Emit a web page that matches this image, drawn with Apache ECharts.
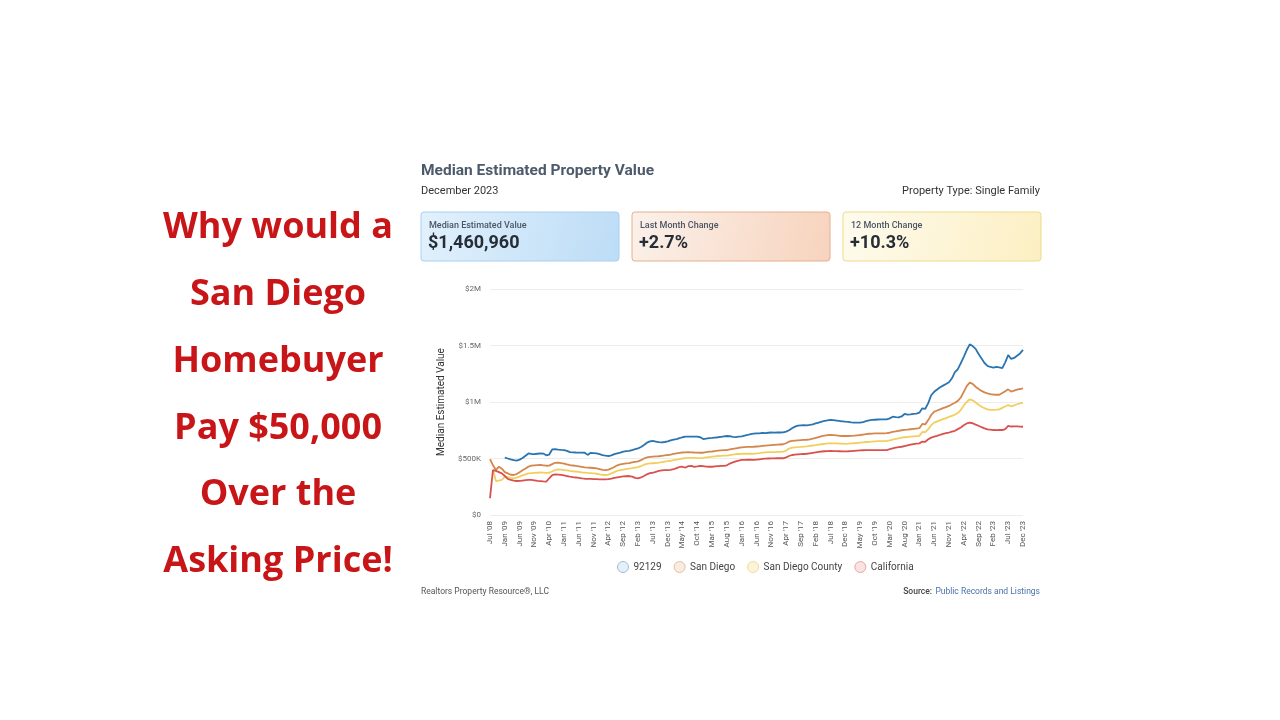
<!DOCTYPE html>
<html>
<head>
<meta charset="utf-8">
<script src="https://cdn.jsdelivr.net/npm/echarts@6/dist/echarts.min.js"></script>
<style>
html,body{margin:0;padding:0;background:#fff;}
#chart{width:1280px;height:720px;}
</style>
</head>
<body>
<div id="chart"></div>
<script>
// ---- Data ----
const headlineLines = ["Why would a", "San Diego", "Homebuyer", "Pay $50,000", "Over the", "Asking Price!"];
const chartTitle = "Median Estimated Property Value";
const chartSubtitle = "December 2023";
const propertyType = "Property Type: Single Family";
const cardLabels = ["Median Estimated Value", "Last Month Change", "12 Month Change"];
const cardValues = ["$1,460,960", "+2.7%", "+10.3%"];
const seriesNames = ["92129", "San Diego", "San Diego County", "California"];
const yTicks = [0, 500, 1000, 1500, 2000]; // thousands of dollars
const yTickLabels = ["$0", "$500K", "$1M", "$1.5M", "$2M"];

const months = [
  "Jul '08","Aug '08","Sep '08","Oct '08","Nov '08",
  "Jan '09","Feb '09","Mar '09","Apr '09","May '09","Jun '09","Jul '09","Aug '09","Sep '09","Oct '09","Nov '09","Dec '09",
  "Jan '10","Feb '10","Mar '10","Apr '10","Sep '10","Oct '10","Nov '10","Dec '10",
  "Jan '11","Feb '11","Mar '11","Apr '11","May '11","Jun '11","Jul '11","Aug '11","Sep '11","Oct '11","Nov '11","Dec '11",
  "Jan '12","Feb '12","Mar '12","Apr '12","May '12","Jun '12","Jul '12","Aug '12","Sep '12","Oct '12","Nov '12","Dec '12",
  "Jan '13","Feb '13","Mar '13","Apr '13","May '13","Jun '13","Jul '13","Aug '13","Sep '13","Oct '13","Nov '13","Dec '13",
  "Jan '14","Feb '14","Mar '14","Apr '14","May '14","Jun '14","Jul '14","Aug '14","Sep '14","Oct '14","Nov '14","Dec '14",
  "Jan '15","Feb '15","Mar '15","Apr '15","May '15","Jun '15","Jul '15","Aug '15","Sep '15","Oct '15","Nov '15","Dec '15",
  "Jan '16","Feb '16","Mar '16","Apr '16","May '16","Jun '16","Jul '16","Aug '16","Sep '16","Oct '16","Nov '16","Dec '16",
  "Jan '17","Feb '17","Mar '17","Apr '17","May '17","Jun '17","Jul '17","Aug '17","Sep '17","Oct '17","Nov '17","Dec '17",
  "Jan '18","Feb '18","Mar '18","Apr '18","May '18","Jun '18","Jul '18","Aug '18","Sep '18","Oct '18","Nov '18","Dec '18",
  "Jan '19","Feb '19","Mar '19","Apr '19","May '19","Jun '19","Jul '19","Aug '19","Sep '19","Oct '19","Nov '19","Dec '19",
  "Jan '20","Feb '20","Mar '20","Apr '20","May '20","Jun '20","Jul '20","Aug '20","Sep '20","Oct '20","Nov '20","Dec '20",
  "Jan '21","Feb '21","Mar '21","Apr '21","May '21","Jun '21","Jul '21","Aug '21","Sep '21","Oct '21","Nov '21","Dec '21",
  "Jan '22","Feb '22","Mar '22","Apr '22","May '22","Jun '22","Jul '22","Aug '22","Sep '22","Oct '22","Nov '22","Dec '22",
  "Jan '23","Feb '23","Mar '23","Apr '23","May '23","Jun '23","Jul '23","Aug '23","Sep '23","Oct '23","Nov '23","Dec '23"
];

// values in thousands of dollars
const zip92129 = [
  null,null,null,null,null,
  507,500,492,485,481, 490,505,525,545,540, 538,542,545,544,528,
  535,580,582,578,576, 575,568,557,555,553, 552,552,551,532,550,
  548,545,538,530,525, 522,528,538,546,552, 560,565,568,575,582,
  590,602,620,640,652, 655,650,645,643,646, 652,660,668,672,680,
  688,693,694,693,694, 693,688,672,676,680, 682,685,688,692,696,
  699,697,692,690,693, 696,702,708,715,720, 723,722,726,725,728,
  730,729,731,730,732, 738,750,768,782,790, 794,795,794,797,802,
  810,818,826,832,838, 842,840,836,832,829, 826,824,820,818,817,
  817,822,830,838,841, 843,845,846,847,847, 855,870,866,864,872,
  894,888,890,895,898, 905,944,940,990,1060, 1090,1110,1130,1145,1160,
  1175,1210,1265,1290,1345, 1400,1460,1510,1495,1470, 1425,1385,1345,1320,1310,
  1304,1310,1307,1300,1350, 1416,1381,1390,1410,1430, 1461
];
const sanDiego = [
  495,440,400,427,410, 380,368,356,354,362, 378,395,412,428,436,
  440,442,444,440,436, 437,450,462,463,460, 455,448,442,438,434,
  430,426,422,420,418, 416,412,406,400,398, 402,412,425,440,448,
  452,456,460,465,470, 474,485,500,510,514, 516,518,520,524,528,
  531,535,540,545,550, 553,555,556,555,553, 552,551,551,556,560,
  562,566,569,572,575, 575,580,585,590,595, 598,600,602,603,604,
  606,608,611,614,616, 618,620,622,624,626, 635,650,656,658,660,
  662,664,666,670,675, 682,690,697,702,706, 708,707,704,701,699,
  699,699,700,702,705, 708,712,716,719,721, 722,722,723,723,724,
  728,735,740,745,750, 754,756,759,762,765, 768,806,802,840,885,
  914,925,935,945,955, 965,980,994,1010,1040, 1090,1140,1172,1160,1135,
  1115,1098,1085,1077,1070, 1065,1064,1064,1080,1095, 1112,1092,1100,1110,1115,
  1121
];
const sanDiegoCounty = [
  null,400,300,305,310, 340,335,328,325,330, 340,350,360,368,370,
  372,374,376,375,373, 374,385,398,404,402, 398,394,390,387,385,
  382,378,375,372,370, 368,365,360,356,354, 358,368,380,392,398,
  402,406,410,414,419, 423,432,445,453,456, 458,460,463,467,472,
  476,480,485,490,495, 500,503,505,506,505, 504,504,505,509,513,
  516,519,522,524,525, 526,530,534,538,540, 541,542,542,542,541,
  545,548,552,555,556, 557,557,558,559,560, 570,588,596,598,600,
  602,605,608,612,615, 618,622,626,630,633, 634,634,633,632,631,
  630,631,633,635,637, 640,643,646,648,650, 652,653,653,654,655,
  660,668,674,679,684, 688,690,693,696,698, 700,735,733,760,795,
  817,828,838,848,858, 868,878,888,902,930, 970,1000,1024,1015,995,
  975,958,945,935,930, 930,932,935,948,960, 973,962,970,980,988,
  994
];
const california = [
  148,398,390,380,369, 345,320,310,305,301, 302,305,308,310,310,
  306,302,300,297,295, 325,352,360,358,355, 350,345,339,335,332,
  328,324,321,320,319, 318,317,316,316,316, 318,322,328,333,338,
  341,343,345,340,328, 325,332,345,360,370, 374,382,390,395,397,
  398,400,405,415,425, 427,420,432,434,426, 430,435,432,428,427,
  427,430,432,434,434, 440,455,465,475,482, 487,488,489,489,487,
  490,493,496,499,500, 501,501,502,502,502, 510,522,531,534,536,
  538,540,542,546,550, 554,558,562,564,566, 567,566,565,564,563,
  563,564,566,568,570, 572,573,574,575,575, 575,575,575,575,575,
  582,590,596,600,604, 610,616,622,628,632, 634,650,648,670,685,
  693,700,710,718,725, 730,738,745,760,775, 795,810,817,812,800,
  790,777,766,758,755, 752,751,752,752,760, 788,783,784,784,782,
  781
];
const seriesData = [zip92129, sanDiego, sanDiegoCounty, california];
const seriesColors = ["#2a74b0", "#d4874c", "#f1cf5f", "#d8514e"];
const legendFill = ["#e6f0f8", "#f8ebe0", "#fcf4d8", "#f9e3e2"];
const legendBorder = ["#9dbfdc", "#e6c09e", "#f0dd9a", "#e8a9a7"];

// ---- Chart ----
const chart = echarts.init(document.getElementById('chart'));
const FONT = 'Roboto, "Noto Sans", sans-serif';

const graphics = [];
headlineLines.forEach((t, i) => {
  graphics.push({
    type: 'text',
    x: 278, y: 228 + i * 66.8,
    style: { text: t, align: 'center', verticalAlign: 'middle',
      fill: '#c81618', font: '700 36px "Open Sans", sans-serif' }
  });
});
graphics.push({ type: 'text', x: 421, y: 171, style: { text: chartTitle, verticalAlign: 'middle', fill: '#4d5a6b', font: '700 15.5px Roboto, sans-serif' } });
graphics.push({ type: 'text', x: 421, y: 191, style: { text: chartSubtitle, verticalAlign: 'middle', fill: '#333', font: '400 11px Roboto, sans-serif' } });
graphics.push({ type: 'text', x: 1040, y: 191, style: { text: propertyType, align: 'right', verticalAlign: 'middle', fill: '#333', font: '400 11px Roboto, sans-serif' } });

const cardX = [421, 632, 843];
const cardW = 198;
const cardGrad = [
  ['#e2f1fc', '#bcdcf6', '#a8d0f0'],
  ['#fbf1ea', '#f7d3bd', '#e5b08e'],
  ['#fefbee', '#fcefc2', '#eedb8a']
];
cardX.forEach((x, i) => {
  graphics.push({
    type: 'rect', shape: { x: x, y: 212, width: cardW, height: 49, r: 3 },
    style: {
      fill: new echarts.graphic.LinearGradient(0, 0, 1, 1, [
        { offset: 0, color: cardGrad[i][0] }, { offset: 1, color: cardGrad[i][1] }
      ]),
      stroke: cardGrad[i][2], lineWidth: 1
    }
  });
  graphics.push({ type: 'text', x: x + 8, y: 226, style: { text: cardLabels[i], verticalAlign: 'middle', fill: '#4a5566', font: '500 9px Roboto, sans-serif' } });
  graphics.push({ type: 'text', x: x + 7, y: 243, style: { text: cardValues[i], verticalAlign: 'middle', fill: '#262d36', font: '700 18px Roboto, sans-serif' } });
});
graphics.push({ type: 'text', x: 421, y: 592, style: { text: 'Realtors Property Resource®, LLC', verticalAlign: 'middle', fill: '#555', font: '400 8.5px Roboto, sans-serif' } });
graphics.push({ type: 'text', x: 1040, y: 592, style: {
  text: '{a|Source:} {b|Public Records and Listings}', align: 'right', verticalAlign: 'middle',
  rich: { a: { fill: '#444', font: '500 8.5px Roboto, sans-serif' }, b: { fill: '#4a72a8', font: '400 8.5px Roboto, sans-serif' } }
} });

const option = {
  backgroundColor: '#ffffff',
  animation: false,
  textStyle: { fontFamily: FONT },
  grid: { left: 490, right: 257, top: 289, bottom: 205, containLabel: false },
  legend: {
    top: 556, left: 612,
    icon: 'circle', itemWidth: 11, itemHeight: 11, itemGap: 12,
    textStyle: { color: '#444', fontSize: 10, fontFamily: FONT },
    data: seriesNames.map((n, i) => ({
      name: n, itemStyle: { color: legendFill[i], borderColor: legendBorder[i], borderWidth: 1 }
    }))
  },
  xAxis: {
    type: 'category', data: months, boundaryGap: false,
    axisLine: { show: false }, axisTick: { show: false },
    axisLabel: { interval: 4, rotate: 90, color: '#555', fontSize: 8, margin: 6 }
  },
  yAxis: {
    type: 'value', min: 0, max: 2000, interval: 500,
    name: 'Median Estimated Value', nameLocation: 'middle', nameGap: 44, nameRotate: 90,
    nameTextStyle: { color: '#333', fontSize: 10 },
    axisLine: { show: false }, axisTick: { show: false },
    axisLabel: { color: '#666', fontSize: 8, margin: 9,
      formatter: v => yTickLabels[yTicks.indexOf(v)] },
    splitLine: { lineStyle: { color: '#ededed', width: 1 } }
  },
  series: seriesNames.map((n, i) => ({
    name: n, type: 'line', data: seriesData[i], symbol: 'none', smooth: false,
    connectNulls: false,
    lineStyle: { color: seriesColors[i], width: 1.8 },
    itemStyle: { color: seriesColors[i] }
  })),
  graphic: graphics
};
chart.setOption(option);
</script>
</body>
</html>
